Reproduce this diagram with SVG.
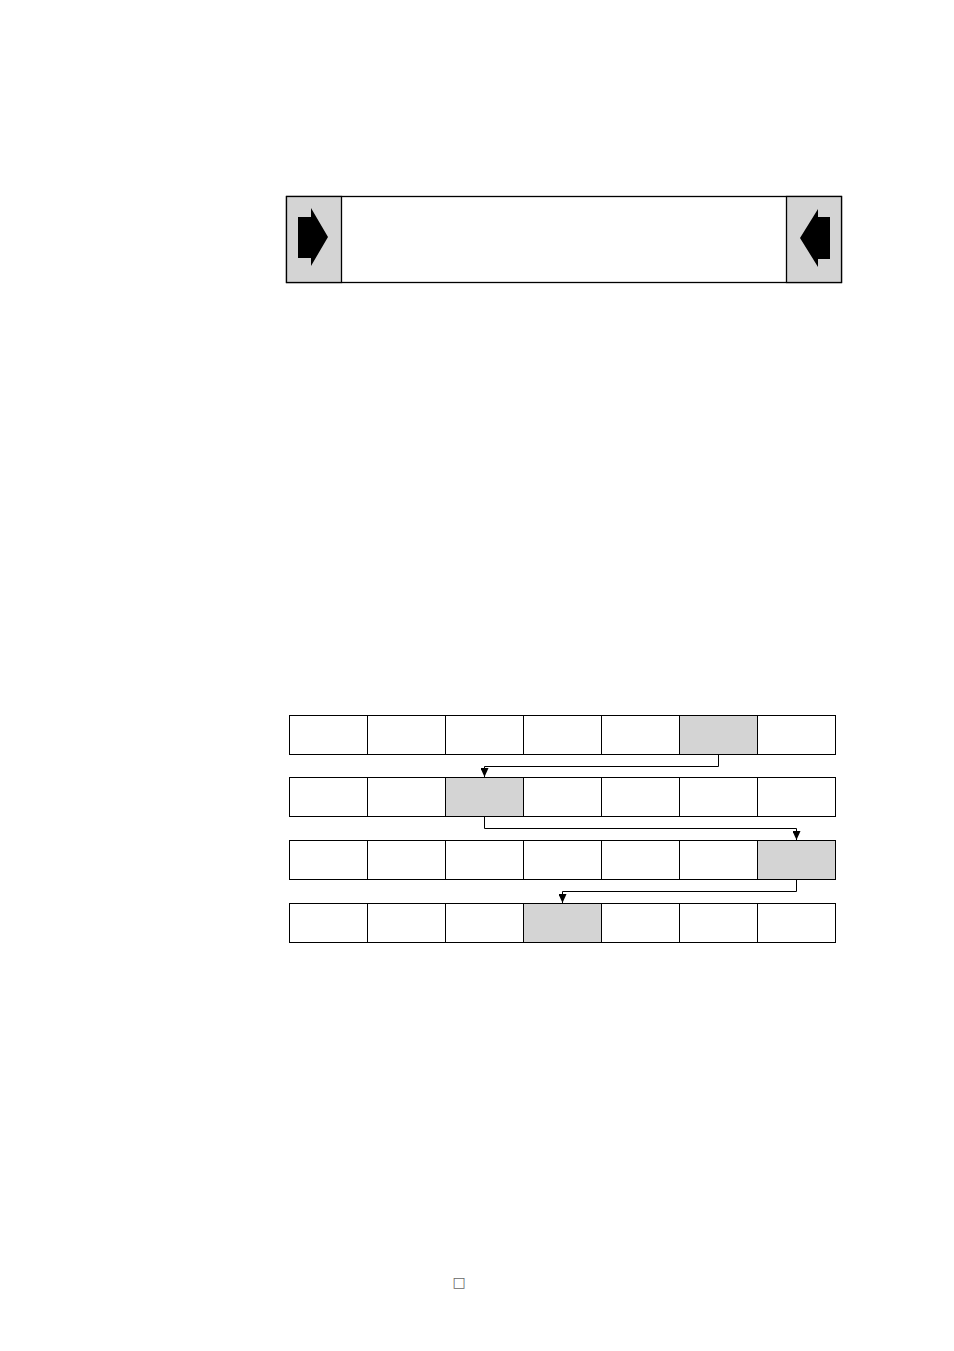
<svg xmlns="http://www.w3.org/2000/svg" width="954" height="1351" viewBox="0 0 954 1351">
<style>
.c{fill:#fff;stroke:#000;stroke-width:1}
.g{fill:#d4d4d4;stroke:#000;stroke-width:1}
.b{fill:#fff;stroke:#000;stroke-width:1.3}
.gb{fill:#d4d4d4;stroke:#000;stroke-width:1.3}
.ln{fill:none;stroke:#000;stroke-width:1}
</style>
<defs>
<marker id="ah" viewBox="0 0 9 8" refX="9" refY="4" markerWidth="9" markerHeight="8" markerUnits="userSpaceOnUse" orient="auto">
<path d="M0,0 L9,4 L0,8 Z" fill="#000"/>
</marker>
</defs>
<rect width="954" height="1351" fill="#fff"/>
<g id="banner">
<rect class="b" x="286.5" y="196.5" width="555" height="86"/>
<rect class="gb" x="286.5" y="196.5" width="55" height="86"/>
<rect class="gb" x="786.5" y="196.5" width="55" height="86"/>
<path d="M298,217 L311,217 L311,208 L328,237 L311,266 L311,258 L298,258 Z" fill="#000"/>
<path d="M830,217 L818,217 L818,209 L800,238 L818,267 L818,259 L830,259 Z" fill="#000"/>
</g>
<g id="row1">
<rect class="c" x="289.5" y="715.5" width="78" height="39"/>
<rect class="c" x="367.5" y="715.5" width="78" height="39"/>
<rect class="c" x="445.5" y="715.5" width="78" height="39"/>
<rect class="c" x="523.5" y="715.5" width="78" height="39"/>
<rect class="c" x="601.5" y="715.5" width="78" height="39"/>
<rect class="g" x="679.5" y="715.5" width="78" height="39"/>
<rect class="c" x="757.5" y="715.5" width="78" height="39"/>
</g>
<g id="row2">
<rect class="c" x="289.5" y="777.5" width="78" height="39"/>
<rect class="c" x="367.5" y="777.5" width="78" height="39"/>
<rect class="g" x="445.5" y="777.5" width="78" height="39"/>
<rect class="c" x="523.5" y="777.5" width="78" height="39"/>
<rect class="c" x="601.5" y="777.5" width="78" height="39"/>
<rect class="c" x="679.5" y="777.5" width="78" height="39"/>
<rect class="c" x="757.5" y="777.5" width="78" height="39"/>
</g>
<g id="row3">
<rect class="c" x="289.5" y="840.5" width="78" height="39"/>
<rect class="c" x="367.5" y="840.5" width="78" height="39"/>
<rect class="c" x="445.5" y="840.5" width="78" height="39"/>
<rect class="c" x="523.5" y="840.5" width="78" height="39"/>
<rect class="c" x="601.5" y="840.5" width="78" height="39"/>
<rect class="c" x="679.5" y="840.5" width="78" height="39"/>
<rect class="g" x="757.5" y="840.5" width="78" height="39"/>
</g>
<g id="row4">
<rect class="c" x="289.5" y="903.5" width="78" height="39"/>
<rect class="c" x="367.5" y="903.5" width="78" height="39"/>
<rect class="c" x="445.5" y="903.5" width="78" height="39"/>
<rect class="g" x="523.5" y="903.5" width="78" height="39"/>
<rect class="c" x="601.5" y="903.5" width="78" height="39"/>
<rect class="c" x="679.5" y="903.5" width="78" height="39"/>
<rect class="c" x="757.5" y="903.5" width="78" height="39"/>
</g>
<g id="connectors">
<path class="ln" d="M718.5,755 V766.5 H484.5 V777" marker-end="url(#ah)"/>
<path class="ln" d="M484.5,817 V828.5 H796.5 V840" marker-end="url(#ah)"/>
<path class="ln" d="M796.5,880 V891.5 H562.5 V903" marker-end="url(#ah)"/>
</g>
<text x="459" y="1287" font-family="DejaVu Sans, sans-serif" font-size="14" fill="#666" text-anchor="middle">□</text>
</svg>
